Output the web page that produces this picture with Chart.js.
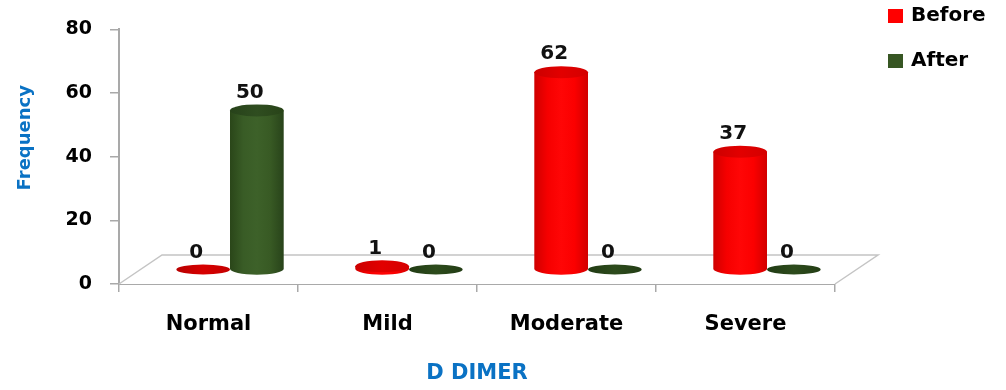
<!DOCTYPE html>
<html>
<head>
<meta charset="utf-8">
<title>D DIMER</title>
<script src="https://cdn.jsdelivr.net/npm/chart.js@4.4.1/dist/chart.umd.min.js"></script>
<style>
  html, body { margin: 0; padding: 0; background: #ffffff; }
  #wrap { width: 1006px; height: 390px; }
</style>
</head>
<body>
<div id="wrap"><canvas id="chart" width="1006" height="390"></canvas></div>
<script>
// Categories and series
const categories = ['Normal', 'Mild', 'Moderate', 'Severe'];
const seriesNames = ['Before', 'After'];
const beforeValues = [0, 1, 62, 37];
const afterValues = [50, 0, 0, 0];
const yTicks = [0, 20, 40, 60, 80];
const xTitle = 'D DIMER';
const yTitle = 'Frequency';

// Appearance
const FONT = "'DejaVu Sans', sans-serif";
const AXIS_GREY = '#a9a9a9';
const FLOOR_GREY = '#c4c4c4';
const TITLE_BLUE = '#0a72c4';
const DEPTH_X = 43;      // depth of the floor, horizontal component
const DEPTH_Y = -29;     // depth of the floor, vertical component
const palette = {
  Before: { swatch: '#ff0000', body: ['#cf0000', '#f60000', '#ff0606', '#fb0000', '#d20000'], top: ['#cc0000', '#e20000', '#d40000'], disk: ['#b80000', '#d70000', '#c40000'] },
  After:  { swatch: '#375623', body: ['#2a4619', '#395c26', '#3d6129', '#385a24', '#28431a'], top: ['#27421a', '#2f4d20', '#284318'], disk: ['#213b14', '#2d4b1c', '#233d15'] }
};

function hGrad(ctx, x0, x1, stops) {
  const g = ctx.createLinearGradient(x0, 0, x1, 0);
  const n = stops.length - 1;
  stops.forEach((c, i) => g.addColorStop(i / n, c));
  return g;
}

function drawCylinder(ctx, cx, topY, baseY, w, colors) {
  const rx = w / 2;
  const h = baseY - topY;
  if (h < 0.5) {
    const ry = 5;
    ctx.beginPath();
    ctx.ellipse(cx, baseY, rx, ry, 0, 0, Math.PI * 2);
    ctx.fillStyle = hGrad(ctx, cx - rx, cx + rx, colors.disk);
    ctx.fill();
    return;
  }
  const ry = 6;
  ctx.beginPath();
  ctx.moveTo(cx - rx, topY);
  ctx.lineTo(cx - rx, baseY);
  ctx.ellipse(cx, baseY, rx, ry, 0, Math.PI, 0, true);
  ctx.lineTo(cx + rx, topY);
  ctx.closePath();
  ctx.fillStyle = hGrad(ctx, cx - rx, cx + rx, colors.body);
  ctx.fill();
  ctx.beginPath();
  ctx.ellipse(cx, topY, rx, ry, 0, 0, Math.PI * 2);
  ctx.fillStyle = hGrad(ctx, cx - rx, cx + rx, colors.top);
  ctx.fill();
}

// Draws the 3D floor, cylinder bars, value labels, legend and vertical title
const cylinderPlugin = {
  id: 'cylinders',
  beforeDatasetsDraw(chart) {
    const { ctx, chartArea } = chart;
    const l = chartArea.left, r = chartArea.right, b = chartArea.bottom;
    ctx.save();
    ctx.beginPath();
    ctx.moveTo(l, b);
    ctx.lineTo(l + DEPTH_X, b + DEPTH_Y);
    ctx.lineTo(r + DEPTH_X, b + DEPTH_Y);
    ctx.lineTo(r, b);
    ctx.fillStyle = '#ffffff';
    ctx.fill();
    ctx.strokeStyle = FLOOR_GREY;
    ctx.lineWidth = 1.5;
    ctx.stroke();
    ctx.restore();
  },
  beforeDatasetDraw() {
    return false;
  },
  afterDatasetsDraw(chart) {
    const { ctx } = chart;
    const dx = DEPTH_X / 2, dy = DEPTH_Y / 2;
    const labels = [];
    ctx.save();
    categories.forEach((_, i) => {
      chart.data.datasets.forEach((ds, d) => {
        const meta = chart.getDatasetMeta(d);
        if (meta.hidden) return;
        const el = meta.data[i];
        const cx = el.x + dx;
        const baseY = el.base + dy;
        const topY = el.y + dy;
        drawCylinder(ctx, cx, topY, baseY, el.width, palette[ds.label]);
        const ry = (baseY - topY) < 0.5 ? 5 : 6;
        labels.push({ text: String(ds.data[i]), x: cx - 7, y: topY - ry - 12 });
      });
    });
    ctx.font = 'bold 20px ' + FONT;
    ctx.fillStyle = '#111111';
    ctx.textAlign = 'center';
    ctx.textBaseline = 'middle';
    labels.forEach(p => ctx.fillText(p.text, p.x, p.y));
    ctx.restore();
  },
  afterDraw(chart) {
    const { ctx, chartArea } = chart;
    ctx.save();
    // legend
    ctx.font = 'bold 20px ' + FONT;
    ctx.textAlign = 'left';
    ctx.textBaseline = 'middle';
    chart.data.datasets.forEach((ds, d) => {
      const y = 16 + d * 45;
      ctx.fillStyle = palette[ds.label].swatch;
      ctx.fillRect(888, y - 7, 15, 14);
      ctx.fillStyle = '#000000';
      ctx.fillText(ds.label, 911, y);
    });
    // vertical axis title
    ctx.translate(25, (chartArea.top + chartArea.bottom) / 2 - 19);
    ctx.rotate(-Math.PI / 2);
    ctx.font = 'bold 18px ' + FONT;
    ctx.fillStyle = TITLE_BLUE;
    ctx.textAlign = 'center';
    ctx.fillText(yTitle, 0, 0);
    ctx.restore();
  }
};

Chart.defaults.font.family = FONT;

new Chart(document.getElementById('chart'), {
  type: 'bar',
  data: {
    labels: categories,
    datasets: [
      { label: seriesNames[0], data: beforeValues, backgroundColor: palette.Before.swatch },
      { label: seriesNames[1], data: afterValues, backgroundColor: palette.After.swatch }
    ]
  },
  options: {
    responsive: false,
    animation: false,
    devicePixelRatio: 1,
    layout: { padding: { top: 17, right: 171, left: 0, bottom: 0 } },
    datasets: { bar: { categoryPercentage: 0.6, barPercentage: 1.0 } },
    plugins: { legend: { display: false }, tooltip: { enabled: false } },
    scales: {
      x: {
        offset: true,
        afterFit(scale) { scale.height = 106; },
        border: { display: true, color: AXIS_GREY, width: 2 },
        grid: { offset: true, drawOnChartArea: false, drawTicks: true, tickLength: 8, color: AXIS_GREY, lineWidth: 1.5 },
        ticks: { color: '#000000', font: { size: 21, weight: 'bold' }, padding: 20, maxRotation: 0 },
        title: { display: true, text: xTitle, color: TITLE_BLUE, font: { size: 21, weight: 'bold' }, padding: { top: 0, bottom: 4 } }
      },
      y: {
        min: yTicks[0],
        max: yTicks[yTicks.length - 1],
        afterFit(scale) { scale.width = 119; },
        afterBuildTicks(scale) { scale.ticks = yTicks.map(v => ({ value: v })); },
        border: { display: true, color: AXIS_GREY, width: 2 },
        grid: { drawOnChartArea: false, drawTicks: true, tickLength: 9, color: AXIS_GREY, lineWidth: 1.5 },
        ticks: { color: '#000000', font: { size: 19, weight: 'bold' }, padding: 18 }
      }
    }
  },
  plugins: [cylinderPlugin]
});
</script>
</body>
</html>
